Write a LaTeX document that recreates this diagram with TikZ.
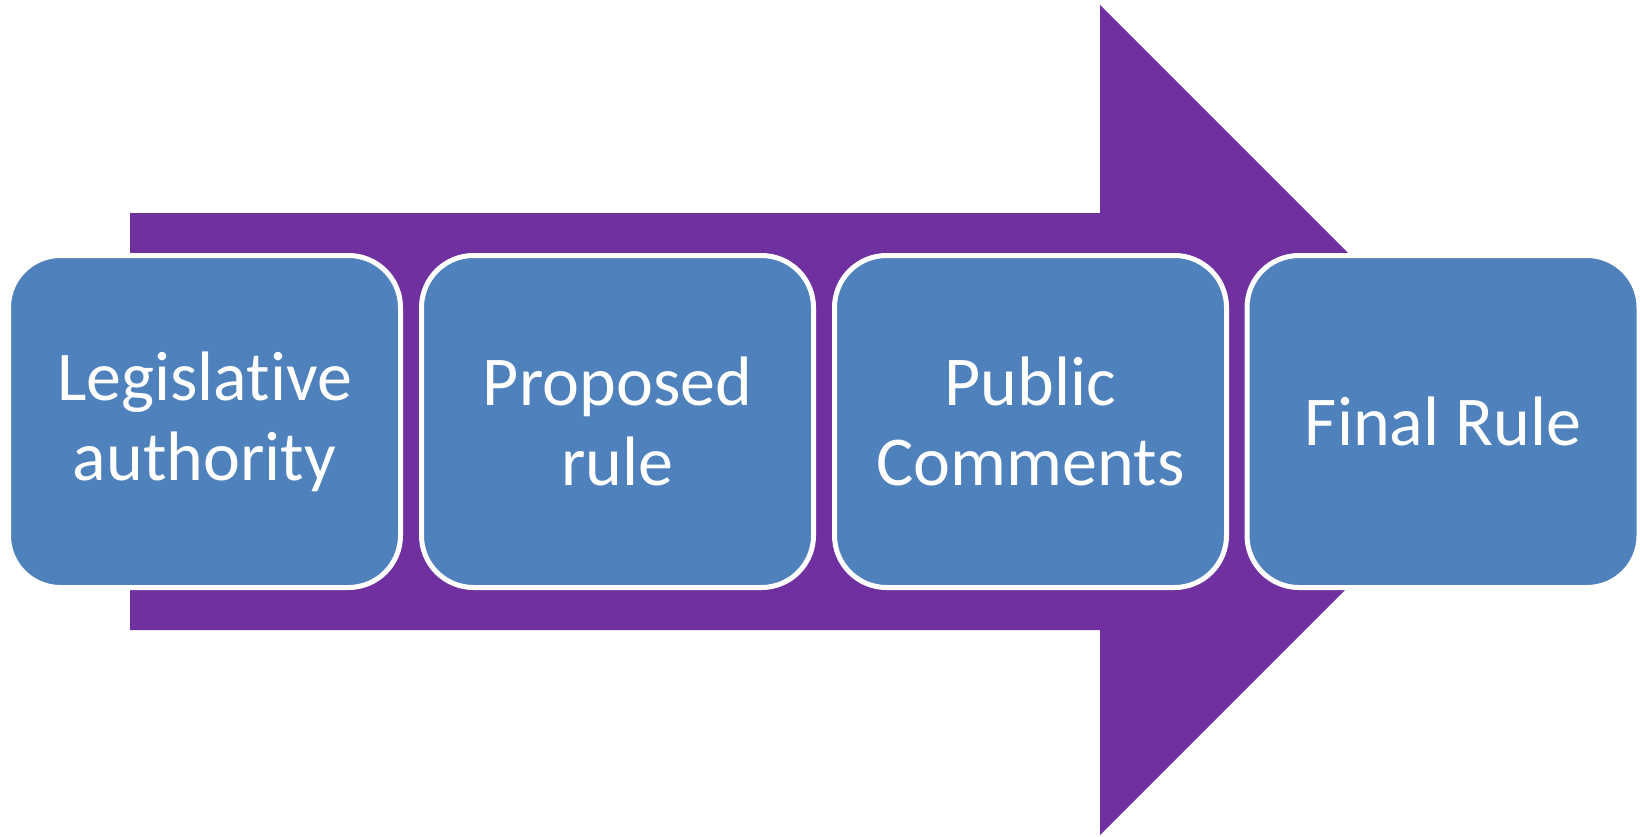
\documentclass[tikz,border=0pt]{standalone}
\usepackage{fontspec}
\setmainfont[RawFeature={-liga;-clig;-dlig}]{Carlito}
\definecolor{flowpurple}{HTML}{7030A0}
\definecolor{stepblue}{HTML}{4F81BD}
\begin{document}
\begin{tikzpicture}[x=1pt,y=-1pt,
  stepbox/.style={rectangle, rounded corners=52pt, fill=stepblue, draw=white,
    line width=5pt, minimum width=392pt, minimum height=332pt,
    inner sep=0pt, outer sep=0pt, text=white, align=center,
    font=\fontsize{70}{80}\selectfont}]
  \useasboundingbox (0,0) rectangle (1640,836);
  % large block arrow behind the steps
  \fill[flowpurple] (130,213) -- (1100,213) -- (1100,5) -- (1515,420)
    -- (1100,835) -- (1100,630) -- (130,630) -- cycle;
  % process steps
  \node[stepbox] (legis) at (204.5,421.5) {Legislative\\authority};
  \node[stepbox] (proposed) at (617.5,421.5) {Proposed\\rule};
  \node[stepbox] (comments) at (1030.5,421.5) {Public\\Comments};
  \node[stepbox] (final) at (1443,421.5) {Final Rule};
\end{tikzpicture}
\end{document}
